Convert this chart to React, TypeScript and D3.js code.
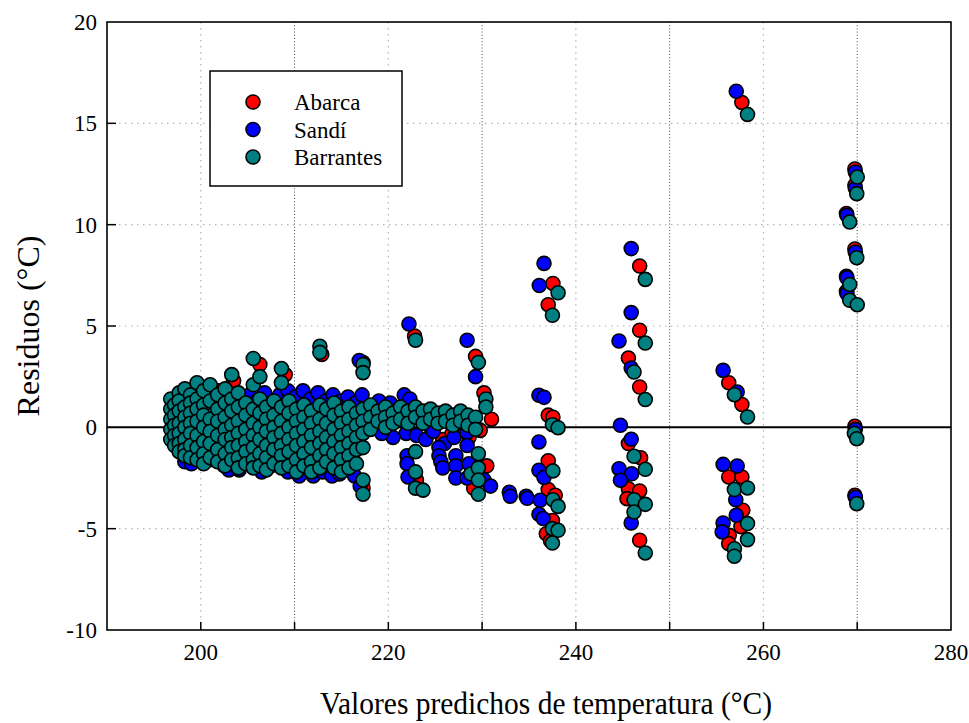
import * as d3 from 'd3'

type Pt = [number, number]

// axis ticks
const xMajor = [200, 220, 240, 260, 280]
const xMinor = [210, 230, 250, 270]
const yMajor = [-10, -5, 0, 5, 10, 15, 20]
const yGrid = [-5, 5, 10, 15]

const seriesNames = ['Abarca', 'Sandí', 'Barrantes']
const seriesColors = ['#ff0000', '#0000ff', '#008080']

// Abarca (red) - predicted, residual
const abarca: Pt[] = [
  [197.5, 0.2], [198.5, -0.6], [199.6, 1.9], [200.5, 0.4], [201.9, 1.8], [202.5, -1.2],
  [203.5, 2.3], [204.5, 0.0], [205.6, -1.9], [206.3, 3.1], [207.0, 0.9], [208.0, -0.8],
  [209.0, 2.6], [210.0, 0.3], [211.0, -1.5], [212.0, 0.9], [212.9, 3.6], [213.5, -1.0],
  [214.5, 0.5], [215.5, -1.8], [216.5, 0.2], [217.3, 3.2], [217.3, -3.0], [218.5, 0.8],
  [220.0, 0.3], [221.5, 0.9], [222.8, 4.5], [223.0, -2.6], [224.5, 0.0], [225.8, -0.6],
  [226.8, -0.3], [227.8, 0.2], [228.6, -0.5], [229.3, 3.5], [229.8, -0.15], [229.1, -3.0],
  [229.9, -2.4], [230.5, -1.9], [230.2, 1.7], [231.0, 0.4],
  [237.55, 7.1], [237.05, 6.05], [237.05, 0.6], [237.55, 0.5], [237.05, -1.65], [237.05, -3.07],
  [237.8, -3.35], [237.5, -4.6], [236.85, -5.25], [237.3, -5.6],
  [246.8, 7.96], [246.8, 4.79], [245.6, 3.42], [246.8, 1.99], [245.6, -0.8], [246.9, -1.5],
  [245.6, -3.03], [246.8, -3.14], [245.45, -3.52], [246.8, -5.57],
  [257.7, 16.03], [256.3, 2.2], [257.7, 1.13], [256.3, -2.45], [257.7, -2.45], [257.8, -4.09],
  [257.6, -4.9], [256.35, -5.33], [256.3, -5.74],
  [269.75, 12.75], [269.75, 11.95], [268.85, 10.55], [269.75, 8.8], [268.85, 7.45], [268.85, 6.7],
  [269.75, 0.05], [269.75, -3.35],
]

// Sandí (blue)
const sandi: Pt[] = [
  [197.2, -0.8], [198.3, -1.7], [199.0, -1.8], [199.9, -1.05], [201.0, -1.6], [202.5, -1.9],
  [203.0, -2.1], [204.1, -2.1], [205.8, -1.5], [206.5, -2.2], [207.5, -1.9], [209.3, -2.2],
  [210.5, -2.4], [211.0, -2.0], [212.0, -2.4], [213.0, -2.2], [214.0, -2.4], [214.8, -2.3],
  [216.4, -2.4], [217.0, -2.9], [216.9, 3.3],
  [204.4, 1.3], [205.2, 1.6], [206.0, 1.3], [206.8, 1.7], [207.6, 1.2], [208.4, 1.6],
  [209.3, 1.8], [210.1, 1.5], [210.9, 1.8], [211.7, 1.4], [212.5, 1.7], [213.3, 1.3],
  [214.1, 1.6], [214.9, 1.3], [215.7, 1.5], [216.5, 1.2], [217.2, 1.6], [218.0, 1.0],
  [219.0, 1.3], [220.2, 1.2], [221.7, 1.6], [222.3, 1.4],
  [221.9, -0.3], [220.5, -0.5], [219.3, -0.3], [223.0, -0.4], [224.0, -0.6], [224.8, -0.2],
  [226.0, -0.8], [227.0, -0.5], [228.4, -0.25],
  [222.0, -1.4], [222.0, -1.8], [222.1, -2.45], [225.4, -1.0], [225.4, -1.4], [225.6, -1.7],
  [225.8, -2.0], [227.2, -1.4], [227.2, -1.9], [227.2, -2.5], [228.4, -0.9], [228.6, -1.8],
  [228.4, -2.5], [230.2, -2.6], [230.9, -2.9], [232.9, -3.2], [233.0, -3.4], [234.7, -3.4],
  [234.8, -3.5],
  [222.2, 5.1], [228.4, 4.3], [229.3, 2.5],
  [236.6, 8.09], [236.1, 7.0], [236.06, 1.58], [236.6, 1.48], [236.06, -0.72], [236.06, -2.12],
  [236.6, -2.47], [236.2, -3.6], [236.06, -4.29], [236.5, -4.5],
  [245.9, 8.82], [245.9, 5.66], [244.6, 4.26], [245.9, 2.93], [244.75, 0.1], [245.9, -0.59],
  [244.6, -2.04], [245.95, -2.29], [244.75, -2.61], [245.9, -4.72],
  [257.1, 16.58], [255.7, 2.81], [257.2, 1.74], [255.7, -1.83], [257.2, -1.91], [257.05, -3.57],
  [257.1, -4.34], [255.7, -4.72], [255.6, -5.16],
  [269.8, 12.6], [269.8, 11.8], [268.9, 10.46], [269.8, 8.65], [268.9, 7.38], [268.9, 6.6],
  [269.8, -0.1], [269.8, -3.45],
]

// Barrantes (teal): dense cluster read column by column, then the outliers
const barrantesCols: [number, number[]][] = [
  [196.8, [1.4, 0.9, 0.4, -0.1, -0.6]],
  [197.2, [1.1, 0.6, 0.1, -0.4, -0.9]],
  [197.7, [1.7, 1.3, 0.8, 0.2, -0.3, -0.8, -1.2]],
  [198.3, [1.9, 1.0, 0.5, 0.0, -0.6, -1.1, -1.4]],
  [198.9, [1.6, 1.2, 0.7, 0.2, -0.3, -0.9, -1.5]],
  [199.6, [2.2, 1.4, 0.9, 0.3, -0.4, -1.0, -1.6]],
  [200.3, [1.8, 1.1, 0.6, 0.0, -0.7, -1.3, -1.8]],
  [201.0, [2.1, 1.3, 0.4, -0.2, -0.8, -1.5]],
  [201.8, [1.6, 0.9, 0.3, -0.4, -1.1, -1.7]],
  [202.6, [1.9, 1.2, 0.5, -0.1, -0.6, -1.3, -1.9]],
  [203.3, [2.6, 1.4, 0.8, 0.1, -0.5, -1.0, -1.6]],
  [204.0, [1.7, 1.0, 0.3, -0.3, -0.9, -1.5, -2.0]],
  [204.8, [1.2, 0.6, -0.1, -0.7, -1.2, -1.8]],
  [205.6, [3.4, 2.1, 0.9, 0.2, -0.4, -1.0, -1.6, -2.0]],
  [206.3, [2.5, 1.4, 0.7, 0.0, -0.6, -1.3, -1.9]],
  [207.0, [1.0, 0.4, -0.2, -0.9, -1.5, -2.1]],
  [207.8, [1.3, 0.6, 0.0, -0.5, -1.1, -1.8]],
  [208.6, [2.9, 2.2, 1.0, 0.3, -0.3, -0.9, -1.4, -2.0]],
  [209.4, [1.3, 0.7, 0.0, -0.6, -1.2, -1.9]],
  [210.2, [0.9, 0.3, -0.3, -0.9, -1.6, -2.2]],
  [211.0, [1.1, 0.5, -0.1, -0.7, -1.3, -1.9]],
  [211.8, [0.8, 0.2, -0.4, -1.0, -1.7, -2.2]],
  [212.7, [4.0, 3.7, 1.1, 0.4, -0.2, -0.8, -1.4, -2.0]],
  [213.4, [0.9, 0.2, -0.5, -1.1, -1.7]],
  [214.2, [1.2, 0.6, -0.1, -0.7, -1.3, -2.0]],
  [215.0, [0.8, 0.2, -0.4, -1.0, -1.6, -2.2]],
  [215.8, [1.0, 0.4, -0.2, -0.8, -1.4, -2.0]],
  [216.6, [0.7, 0.1, -0.5, -1.1, -1.8]],
  [217.3, [3.1, 2.7, 0.9, 0.3, -0.3, -1.0, -2.6, -3.3]],
  [218.1, [1.1, 0.5, -0.1]],
  [218.9, [0.8, 0.3]],
  [219.7, [1.0, 0.5, 0.0]],
  [220.5, [0.7, 0.2]],
  [221.3, [1.0, 0.4]],
  [222.1, [0.8, 0.2]],
  [222.9, [4.3, 1.0, 0.5, -1.2, -2.2, -3.0]],
  [223.7, [0.8, 0.2, -3.1]],
  [224.5, [0.9, 0.4]],
  [225.3, [0.7, 0.2]],
  [226.1, [0.8, 0.3]],
  [226.9, [0.6, 0.1]],
  [227.7, [0.8, 0.3]],
  [228.5, [0.6, 0.1]],
  [228.8, [-2.3]],
  [229.3, [0.5, -0.1]],
  [229.6, [3.2, -1.3, -2.0, -2.6, -3.3]],
  [230.4, [1.4, 1.0]],
]

const barrantesOut: Pt[] = [
  [238.1, 6.64], [237.5, 5.53], [237.5, 0.13], [238.1, -0.02], [237.55, -2.15], [237.55, -3.57],
  [238.1, -3.9], [237.5, -5.0], [238.1, -5.08], [237.5, -5.71],
  [247.4, 7.3], [247.4, 4.16], [246.2, 2.73], [247.4, 1.37], [246.2, -1.43], [247.4, -2.07],
  [246.2, -3.57], [247.4, -3.8], [246.2, -4.18], [247.4, -6.2],
  [258.3, 15.44], [256.9, 1.61], [258.3, 0.51], [256.9, -3.07], [258.3, -2.99], [258.3, -4.75],
  [258.3, -5.54], [256.9, -5.99], [256.9, -6.36],
  [270.0, 12.35], [269.95, 11.53], [269.2, 10.13], [269.95, 8.37], [269.2, 7.05], [269.2, 6.27],
  [270.0, 6.05], [269.7, -0.3], [269.95, -0.56], [269.95, -3.77],
]

const barrantes: Pt[] = [
  ...barrantesCols.flatMap(([x, ys]) => ys.map((y) => [x, y] as Pt)),
  ...barrantesOut,
]

const FONT = "'Liberation Serif', 'Times New Roman', serif"

export default function App() {
  const width = 969
  const height = 723
  const left = 107
  const right = 951
  const top = 22
  const bottom = 630

  const x = d3.scaleLinear().domain([190, 280]).range([left, right])
  const y = d3.scaleLinear().domain([-10, 20]).range([bottom, top])

  const series = [abarca, sandi, barrantes]

  return (
    <div style={{ position: 'absolute', left: 0, top: 0 }}>
      <svg width={width} height={height} style={{ display: 'block', background: '#fff' }}>
        {/* grid */}
        {xMajor.filter((v) => v < 280).map((v) => (
          <line key={'gx' + v} x1={x(v)} x2={x(v)} y1={top} y2={bottom}
            stroke="#b4b4b4" strokeWidth={1.2} strokeDasharray="1.5,4.5" />
        ))}
        {xMinor.map((v) => (
          <line key={'gm' + v} x1={x(v)} x2={x(v)} y1={top} y2={bottom}
            stroke="#444" strokeWidth={1} strokeDasharray="1,2.2" />
        ))}
        {yGrid.map((v) => (
          <line key={'gy' + v} x1={left} x2={right} y1={y(v)} y2={y(v)}
            stroke="#b4b4b4" strokeWidth={1.2} strokeDasharray="1.5,4.5" />
        ))}

        {/* zero line */}
        <line x1={left} x2={right} y1={y(0)} y2={y(0)} stroke="#000" strokeWidth={2} />

        {/* points */}
        {series.map((pts, si) => (
          <g key={'s' + si}>
            {pts.map((p, i) => (
              <circle key={i} cx={x(p[0])} cy={y(p[1])} r={7}
                fill={seriesColors[si]} stroke="#000" strokeWidth={1.6} />
            ))}
          </g>
        ))}

        {/* ticks */}
        {xMajor.concat(xMinor).filter((v) => v < 280).map((v) => (
          <line key={'tx' + v} x1={x(v)} x2={x(v)} y1={bottom} y2={bottom - 8}
            stroke="#000" strokeWidth={1.5} />
        ))}
        {yGrid.map((v) => (
          <line key={'ty' + v} x1={left} x2={left + 9} y1={y(v)} y2={y(v)}
            stroke="#000" strokeWidth={1.5} />
        ))}

        {/* frame */}
        <rect x={left} y={top} width={right - left} height={bottom - top}
          fill="none" stroke="#000" strokeWidth={1.6} />

        {/* tick labels */}
        {xMajor.map((v) => (
          <text key={'lx' + v} x={x(v)} y={660} textAnchor="middle"
            fontFamily={FONT} fontSize={23}>{v}</text>
        ))}
        {yMajor.map((v) => (
          <text key={'ly' + v} x={97} y={y(v)} dy="0.35em" textAnchor="end"
            fontFamily={FONT} fontSize={23}>{v}</text>
        ))}

        {/* axis titles */}
        <text x={546} y={714} textAnchor="middle" fontFamily={FONT} fontSize={31}
          textLength={452} lengthAdjust="spacingAndGlyphs">
          Valores predichos de temperatura (°C)
        </text>
        <text transform={`translate(39, ${(top + bottom) / 2}) rotate(-90)`} textAnchor="middle"
          fontFamily={FONT} fontSize={32}>
          Residuos (°C)
        </text>

        {/* legend */}
        <rect x={210} y={71} width={192} height={115} fill="#fff" stroke="#000" strokeWidth={1.5} />
        {seriesNames.map((name, i) => (
          <g key={'lg' + i}>
            <circle cx={253} cy={102 + i * 27.5} r={7} fill={seriesColors[i]}
              stroke="#000" strokeWidth={1.6} />
            <text x={294} y={110 + i * 27.5} fontFamily={FONT} fontSize={23}>{name}</text>
          </g>
        ))}
      </svg>
    </div>
  )
}
